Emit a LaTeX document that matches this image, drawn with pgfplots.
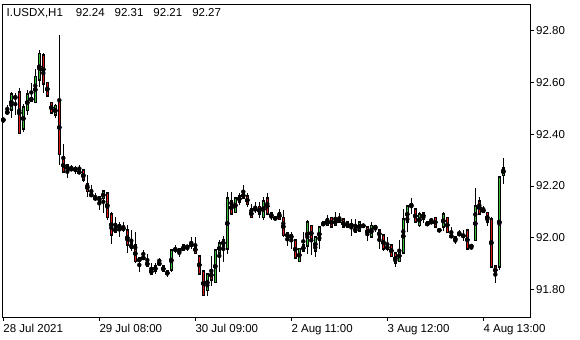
\documentclass[border=0pt]{standalone}
\usepackage{pgfplots}
\pgfplotsset{compat=1.18}
\usepackage{pgfplotstable}
\usepackage{fontspec}
\setmainfont{Liberation Sans}
\definecolor{bullc}{RGB}{50,190,50}
\definecolor{bearc}{RGB}{225,20,20}
\pgfplotstableread{
i O H L C
0 92.453 92.463 92.443 92.461
1 92.484 92.513 92.482 92.484
2 92.493 92.564 92.461 92.554
3 92.542 92.560 92.474 92.542
4 92.562 92.581 92.403 92.403
5 92.420 92.517 92.410 92.504
6 92.491 92.573 92.474 92.554
7 92.542 92.597 92.526 92.529
8 92.523 92.654 92.523 92.622
9 92.609 92.725 92.583 92.712
10 92.706 92.714 92.560 92.594
11 92.600 92.600 92.548 92.548
12 92.523 92.523 92.481 92.481
13 92.474 92.517 92.465 92.510
14 92.529 92.783 92.281 92.322
15 92.311 92.364 92.253 92.253
16 92.261 92.280 92.230 92.280
17 92.272 92.280 92.261 92.261
18 92.272 92.277 92.249 92.258
19 92.254 92.280 92.254 92.254
20 92.261 92.261 92.217 92.222
21 92.210 92.242 92.159 92.178
22 92.172 92.203 92.159 92.159
23 92.153 92.172 92.142 92.153
24 92.160 92.160 92.107 92.141
25 92.151 92.181 92.097 92.181
26 92.172 92.172 92.071 92.079
27 92.091 92.100 91.977 92.010
28 92.020 92.081 92.020 92.042
29 92.049 92.062 92.002 92.039
30 92.029 92.061 92.021 92.042
31 92.029 92.049 91.940 91.971
32 91.979 92.030 91.950 91.958
33 91.971 92.022 91.902 91.908
34 91.922 91.922 91.869 91.908
35 91.922 91.953 91.922 91.922
36 91.910 91.940 91.891 91.891
37 91.880 91.902 91.859 91.859
38 91.871 91.902 91.859 91.891
39 91.902 91.921 91.902 91.902
40 91.891 91.891 91.869 91.869
41 91.859 91.877 91.848 91.871
42 91.876 91.953 91.868 91.953
43 91.959 91.972 91.940 91.952
44 91.959 91.959 91.927 91.940
45 91.952 91.971 91.952 91.971
46 91.966 91.971 91.950 91.966
47 91.969 92.003 91.959 91.979
48 91.971 92.003 91.939 91.939
49 91.930 91.930 91.859 91.859
50 91.872 91.872 91.776 91.777
51 91.797 91.859 91.776 91.859
52 91.878 91.930 91.814 91.837
53 91.827 91.953 91.827 91.953
54 91.940 91.992 91.869 91.979
55 91.992 92.007 91.908 91.969
56 91.957 92.178 91.937 92.153
57 92.143 92.178 92.091 92.091
58 92.097 92.153 92.097 92.153
59 92.161 92.172 92.127 92.139
60 92.153 92.204 92.153 92.174
61 92.161 92.172 92.118 92.129
62 92.110 92.131 92.078 92.078
63 92.110 92.139 92.095 92.110
64 92.120 92.139 92.075 92.091
65 92.078 92.159 92.069 92.143
66 92.153 92.174 92.091 92.091
67 92.098 92.098 92.069 92.078
68 92.071 92.079 92.071 92.079
69 92.098 92.110 92.071 92.071
70 92.079 92.110 92.002 92.008
71 92.021 92.021 91.969 92.002
72 92.011 92.024 91.959 92.000
73 91.992 91.992 91.921 91.921
74 91.908 91.959 91.908 91.959
75 91.972 92.024 91.950 91.950
76 91.969 92.069 91.937 92.060
77 92.047 92.047 91.937 91.989
78 91.950 92.002 91.927 92.002
79 91.989 92.041 91.957 92.041
80 92.047 92.060 92.047 92.060
81 92.047 92.088 92.047 92.073
82 92.079 92.079 92.041 92.041
83 92.047 92.101 92.047 92.073
84 92.079 92.095 92.056 92.060
85 92.073 92.073 92.041 92.041
86 92.060 92.060 92.041 92.041
87 92.049 92.073 92.008 92.049
88 92.041 92.073 92.021 92.021
89 92.027 92.060 92.021 92.060
90 92.047 92.056 92.041 92.047
91 92.041 92.041 91.989 92.008
92 92.002 92.060 92.002 92.047
93 92.041 92.049 92.024 92.041
94 92.030 92.030 91.957 92.002
95 92.011 92.011 91.950 91.957
96 91.969 92.002 91.950 91.957
97 91.972 91.972 91.927 91.927
98 91.940 91.940 91.886 91.902
99 91.908 91.992 91.908 91.953
100 91.940 92.111 91.940 92.073
101 92.060 92.123 92.021 92.123
102 92.131 92.153 92.092 92.120
103 92.110 92.110 92.060 92.060
104 92.047 92.101 92.041 92.092
105 92.098 92.101 92.060 92.073
106 92.060 92.060 92.047 92.047
107 92.060 92.078 92.060 92.060
108 92.079 92.079 92.041 92.041
109 92.030 92.030 92.030 92.030
110 92.041 92.101 92.028 92.092
111 92.079 92.079 92.021 92.021
112 92.011 92.041 92.002 92.002
113 91.989 92.002 91.979 92.002
114 92.008 92.030 92.008 92.021
115 92.008 92.030 91.989 92.008
116 92.030 92.030 91.957 91.957
117 91.969 91.969 91.957 91.969
118 91.989 92.191 91.989 92.123
119 92.142 92.159 92.091 92.091
120 92.097 92.123 92.097 92.111
121 92.098 92.098 92.047 92.060
122 92.073 92.081 91.888 91.888
123 91.891 91.891 91.825 91.859
124 91.888 92.235 91.876 92.235
125 92.240 92.310 92.210 92.270
}\candles
\begin{document}
\begin{tikzpicture}
\begin{axis}[
  name=ax, scale only axis, width=527.5bp, height=313bp,
  xmin=-0.2, xmax=131.675, ymin=91.694, ymax=92.9027,
  axis line style={black, line width=0.9bp},
  tick align=outside, major tick length=4bp,
  tick style={black, line width=0.9bp},
  xtick pos=bottom, ytick pos=right, yticklabel pos=right,
  ytick={91.8,92.0,92.2,92.4,92.6,92.8},
  /pgf/number format/assume math mode=true,
  yticklabel style={/pgf/number format/.cd, fixed, fixed zerofill, precision=2, /tikz/.cd,
    font=\fontsize{11.5bp}{13bp}\selectfont, anchor=west, inner sep=0pt, xshift=2bp},
  xtick={0,24,48,72,96,120},
  xticklabels={28 Jul 2021, 29 Jul 08:00, 30 Jul 09:00, 2 Aug 11:00, 3 Aug 12:00, 4 Aug 13:00},
  xticklabel style={font=\fontsize{11.5bp}{13bp}\selectfont, anchor=north west, inner sep=0pt, xshift=0bp, yshift=-3bp},
]
% wicks
\addplot[black, only marks, mark=none, forget plot,
  error bars/.cd, y dir=both, y explicit, error mark=none,
  error bar style={line width=1bp, black}]
  table[x=i, y expr=(\thisrow{H}+\thisrow{L})/2, y error expr=(\thisrow{H}-\thisrow{L})/2] \candles;
% body outlines
\addplot[black, only marks, mark=none, forget plot,
  error bars/.cd, y dir=both, y explicit, error mark=none,
  error bar style={line width=3.2bp, black}]
  table[x=i, y expr=(\thisrow{O}+\thisrow{C})/2, y error expr=abs(\thisrow{C}-\thisrow{O})/2] \candles;
% bull fill: length is zero for falling candles
\addplot[black, only marks, mark=none, forget plot,
  error bars/.cd, y dir=both, y explicit, error mark=none,
  error bar style={line width=1.4bp, draw=bullc}]
  table[x=i, y expr=(\thisrow{O}+\thisrow{C})/2, y error expr=(\thisrow{C}>\thisrow{O})*abs(\thisrow{C}-\thisrow{O})/2] \candles;
% bear fill: length is zero for rising candles
\addplot[black, only marks, mark=none, forget plot,
  error bars/.cd, y dir=both, y explicit, error mark=none,
  error bar style={line width=1.4bp, draw=bearc}]
  table[x=i, y expr=(\thisrow{O}+\thisrow{C})/2, y error expr=(\thisrow{O}>\thisrow{C})*abs(\thisrow{C}-\thisrow{O})/2] \candles;
% open/close edges
\addplot[black, only marks, mark=-, mark size=1.6bp, mark options={line width=1.6bp}, forget plot]
  table[x=i, y=O] \candles;
\addplot[black, only marks, mark=-, mark size=1.6bp, mark options={line width=1.6bp}, forget plot]
  table[x=i, y=C] \candles;
\node[fill=black, text=white, anchor=west, inner sep=0pt, minimum width=41bp, minimum height=13.5bp,
  font=\fontsize{11.5bp}{13bp}\selectfont] at ({rel axis cs:1,0} |- {axis cs:0,92.27}) [xshift=2bp] {92.27};
\end{axis}
\node[anchor=north west, inner sep=0pt, font=\fontsize{11.5bp}{13bp}\selectfont]
  at ([xshift=4bp,yshift=-4bp]ax.north west) {I.USDX,H1\hspace{13bp}92.24\hspace{10bp}92.31\hspace{10bp}92.21\hspace{10bp}92.27};
\pgfresetboundingbox
\path[use as bounding box] ([xshift=-2.5bp,yshift=-23bp]ax.south west) rectangle ([xshift=50bp,yshift=4bp]ax.north east);
\end{tikzpicture}
\end{document}
